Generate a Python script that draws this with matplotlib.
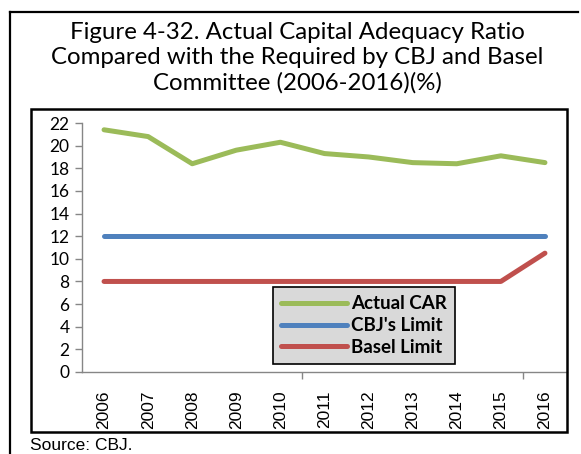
import matplotlib
matplotlib.use("Agg")
import matplotlib.pyplot as plt
from matplotlib.patches import Rectangle
from matplotlib.lines import Line2D

years = ["2006", "2007", "2008", "2009", "2010", "2011", "2012", "2013", "2014", "2015", "2016"]
actual_car = [21.4, 20.8, 18.4, 19.6, 20.3, 19.3, 19.0, 18.5, 18.4, 19.1, 18.5]
cbj_limit = [12, 12, 12, 12, 12, 12, 12, 12, 12, 12, 12]
basel_limit = [8, 8, 8, 8, 8, 8, 8, 8, 8, 8, 10.5]
series_names = ["Actual CAR", "CBJ's Limit", "Basel Limit"]
y_ticks = list(range(0, 23, 2))

W, H = 581, 454
fig = plt.figure(figsize=(W / 100, H / 100), dpi=100)
fig.patch.set_facecolor("white")

def fx(px):
    return px / W

def fy(py):
    return 1 - py / H

# outer frame
fig.add_artist(Line2D([fx(10), fx(10)], [fy(12), fy(460)], color="black", lw=1.6))
fig.add_artist(Line2D([fx(10), fx(578)], [fy(12), fy(12)], color="black", lw=1.6))

# chart box
fig.add_artist(Rectangle((fx(31), fy(432)), fx(567) - fx(31), fy(109) - fy(432),
                         fill=False, edgecolor="black", lw=1.8, zorder=5))

title = ("Figure 4-32. Actual Capital Adequacy Ratio\n"
         "Compared with the Required by CBJ and Basel\n"
         "Committee (2006-2016)(%)")
fig.text(fx(297), fy(58), title, ha="center", va="center", fontsize=17.3,
         family="Lato", linespacing=1.25)

ax = fig.add_axes([fx(82), fy(372), fx(567) - fx(82), fy(123) - fy(372)])
x = list(range(len(years)))
colors = ["#9BBB59", "#4F81BD", "#C0504D"]
for vals, c, name in zip([actual_car, cbj_limit, basel_limit], colors, series_names):
    ax.plot(x, vals, color=c, lw=3.6, solid_capstyle="round", label=name)

ax.set_xlim(-0.5, len(years) - 0.5)
ax.set_ylim(0, 22)
ax.set_yticks(y_ticks)
ax.set_yticklabels([str(t) for t in y_ticks], family="Lato", fontsize=12.5)
ax.set_xticks(x)
ax.set_xticklabels(years, rotation=90, family="Liberation Sans", fontsize=12.5)
ax.tick_params(axis="x", length=0, pad=13)
ax.set_xticks([4.5, 9.5], minor=True)
ax.tick_params(axis="x", which="minor", length=5, color="#868686", width=1)
ax.tick_params(axis="y", length=5, color="#868686", width=1, pad=4)
for s in ["top", "right"]:
    ax.spines[s].set_visible(False)
for s in ["left", "bottom"]:
    ax.spines[s].set_color("#868686")
    ax.spines[s].set_linewidth(1)
ax.patch.set_alpha(0)

leg = ax.legend(loc="upper left", bbox_to_anchor=((273 - 82) / (567 - 82), (372 - 287) / (372 - 123)),
                frameon=True, fancybox=False, facecolor="#D9D9D9", edgecolor="black",
                framealpha=1, prop={"family": "Lato", "weight": "bold", "size": 13.5},
                handlelength=3.5, handletextpad=0.2, labelspacing=0.25, borderpad=0.45,
                borderaxespad=0)
leg.get_frame().set_linewidth(1.2)

fig.text(fx(30), fy(445), "Source: CBJ.", ha="left", va="center",
         family="Liberation Sans", fontsize=12.5)

fig.savefig("out.png", dpi=100, facecolor="white")
